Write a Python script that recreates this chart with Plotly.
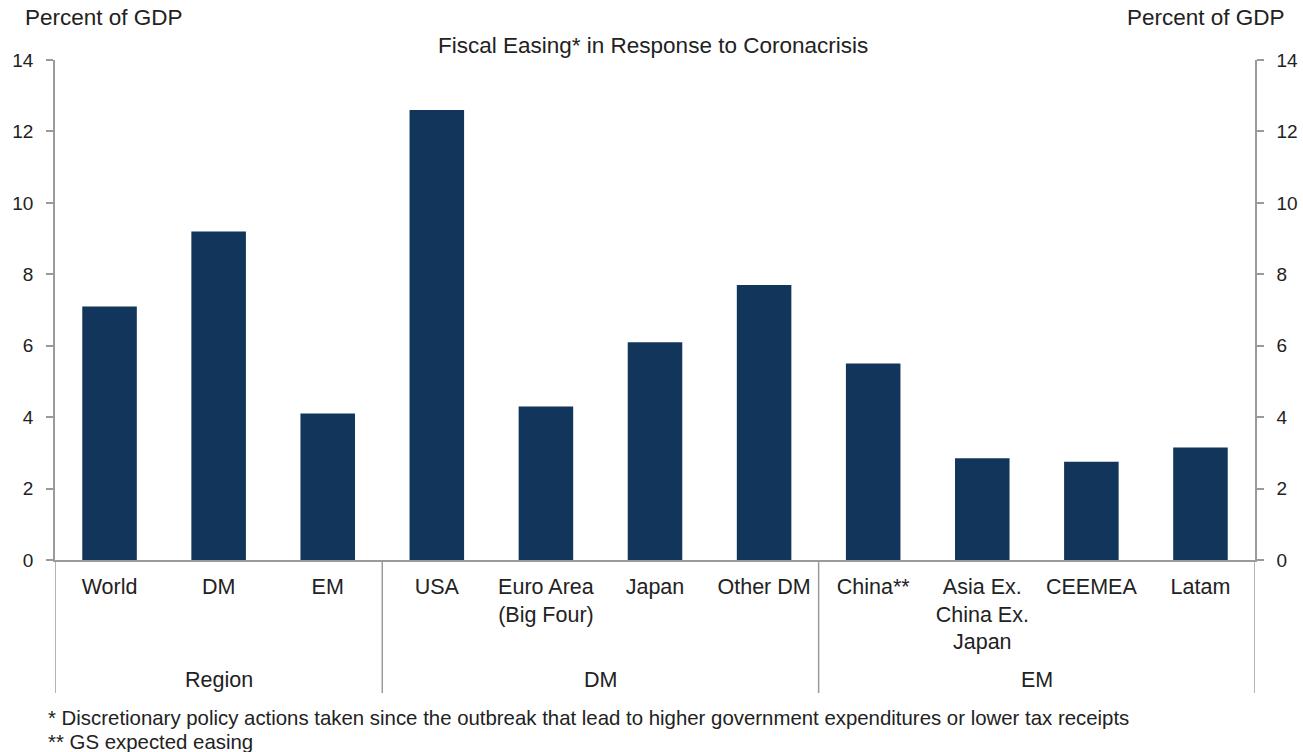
import plotly.graph_objects as go

categories = ["World", "DM", "EM", "USA", "Euro Area<br>(Big Four)", "Japan", "Other DM",
              "China**", "Asia Ex.<br>China Ex.<br>Japan", "CEEMEA", "Latam"]
values = [7.1, 9.2, 4.1, 12.6, 4.3, 6.1, 7.7, 5.5, 2.85, 2.75, 3.15]
groups = ["Region", "DM", "EM"]
group_spans = [(0, 2), (3, 6), (7, 10)]
y_ticks = [0, 2, 4, 6, 8, 10, 12, 14]

W, H = 1303, 752
L, R, T, B = 55, 48, 60, 192
FONT = "Liberation Sans, Arial, sans-serif"
TXT = "#222222"
AX = "#9a9a9a"
FS_CAT = 21.5
FS_TICK = 19
FS_TITLE = 22.5
FS_NOTE = 20.4

pos = list(range(len(categories)))

fig = go.Figure()
fig.add_trace(go.Bar(x=pos, y=values, marker=dict(color="#12355b", line=dict(width=0)),
                     width=0.5, showlegend=False, hoverinfo="skip"))
fig.add_trace(go.Scatter(x=[0], y=[0], yaxis="y2", mode="markers", marker=dict(opacity=0),
                         showlegend=False, hoverinfo="skip"))

yax = dict(range=[0, 14], tickvals=y_ticks, showgrid=False, zeroline=False, showline=True,
           linecolor=AX, linewidth=1.5, ticks="outside", ticklen=7, tickcolor=AX, tickwidth=1.5,
           ticklabelstandoff=9, automargin=False,
           tickfont=dict(family=FONT, size=FS_TICK, color=TXT))
fig.update_layout(
    width=W, height=H, margin=dict(l=L, r=R, t=T, b=B, autoexpand=False),
    paper_bgcolor="white", plot_bgcolor="white",
    font=dict(family=FONT, size=FS_CAT, color=TXT),
    xaxis=dict(range=[-0.5, len(categories) - 0.5], tickvals=pos, ticktext=categories,
               showgrid=False, zeroline=False, showline=True, linecolor=AX, linewidth=1.5,
               ticks="", ticklabelstandoff=6, automargin=False,
               tickfont=dict(family=FONT, size=FS_CAT, color=TXT)),
    yaxis=yax,
    yaxis2=dict(yax, overlaying="y", side="right"),
    bargap=0.5,
)


def px(x):
    return (x - L) / (W - L - R)


def py(y):
    return (H - B - y) / (H - T - B)


# group separator lines
seps = [group_spans[0][0] - 0.5] + [s[1] + 0.5 for s in group_spans]
for s in seps:
    fig.add_shape(type="line", xref="x", yref="paper", x0=s, x1=s, y0=0, y1=py(693),
                  line=dict(color=AX, width=1.5))
for g, (a, b) in zip(groups, group_spans):
    fig.add_annotation(x=(a + b) / 2, y=py(680), xref="x", yref="paper", text=g, showarrow=False,
                       font=dict(family=FONT, size=FS_CAT, color=TXT), yanchor="middle")

fig.add_annotation(x=px(653), y=py(46), xref="paper", yref="paper",
                   text="Fiscal Easing* in Response to Coronacrisis", showarrow=False,
                   font=dict(family=FONT, size=FS_TITLE, color=TXT), yanchor="middle")
fig.add_annotation(x=px(23), y=py(18), xref="paper", yref="paper", text="Percent of GDP",
                   showarrow=False, xanchor="left", yanchor="middle",
                   font=dict(family=FONT, size=FS_TITLE, color=TXT))
fig.add_annotation(x=px(1287), y=py(18), xref="paper", yref="paper", text="Percent of GDP",
                   showarrow=False, xanchor="right", yanchor="middle",
                   font=dict(family=FONT, size=FS_TITLE, color=TXT))
fig.add_annotation(x=px(46), y=py(718), xref="paper", yref="paper",
                   text="* Discretionary policy actions taken since the outbreak that lead to higher government expenditures or lower tax receipts",
                   showarrow=False, xanchor="left", yanchor="middle",
                   font=dict(family=FONT, size=FS_NOTE, color=TXT))
fig.add_annotation(x=px(46), y=py(742), xref="paper", yref="paper", text="** GS expected easing",
                   showarrow=False, xanchor="left", yanchor="middle",
                   font=dict(family=FONT, size=FS_NOTE, color=TXT))

fig.write_html("out.html")
